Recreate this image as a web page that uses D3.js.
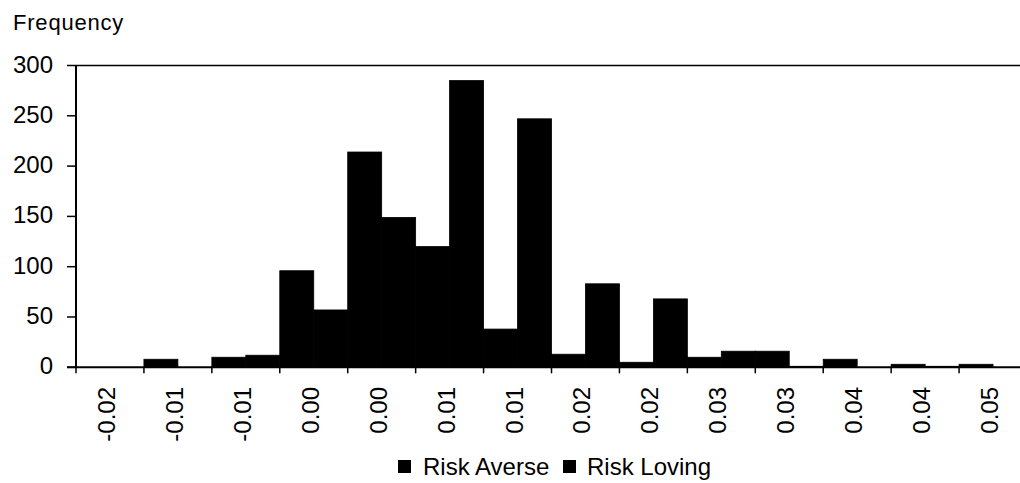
<!DOCTYPE html>
<html>
<head>
<meta charset="utf-8">
<script src="https://cdn.jsdelivr.net/npm/d3@7"></script>
<style>
  html, body { margin: 0; padding: 0; background: #fff; }
  svg { display: block; }
  text { font-family: "Liberation Sans", Arial, sans-serif; fill: #000; }
</style>
</head>
<body>
<svg id="chart" width="1020" height="483"></svg>
<script>
const categories = ["-0.02", "-0.01", "-0.01", "0.00", "0.00", "0.01", "0.01", "0.02", "0.02", "0.03", "0.03", "0.04", "0.04", "0.05"];
const riskAverse = [0, 8, 10, 96, 214, 120, 38, 13, 5, 10, 16, 8, 3, 3];
const riskLoving = [0, 0, 12, 57, 149, 285, 247, 83, 68, 16, 1, 0, 1, 0];
const seriesNames = ["Risk Averse", "Risk Loving"];
const yTicks = [0, 50, 100, 150, 200, 250, 300];

const svg = d3.select("#chart");
const plotLeft = 76, plotRight = 1027, plotTop = 65.5, plotBottom = 367.3;

const x = d3.scaleBand().domain(d3.range(categories.length)).range([plotLeft, plotRight]).paddingInner(0).paddingOuter(0);
const xs = d3.scaleBand().domain([0, 1]).range([0, x.bandwidth()]);
const y = d3.scaleLinear().domain([0, 300]).range([plotBottom, plotTop]);

const fills = ["#000", "#000"];
const series = [riskAverse, riskLoving];

// bars
series.forEach((vals, si) => {
  svg.append("g").selectAll("rect").data(vals).join("rect")
    .attr("x", (d, i) => x(i) + xs(si))
    .attr("y", d => y(d))
    .attr("width", xs.bandwidth())
    .attr("height", d => plotBottom - y(d))
    .attr("fill", fills[si])
    .attr("stroke", "#000")
    .attr("stroke-width", 0.8);
});

// top border
svg.append("line").attr("x1", plotLeft).attr("x2", plotRight).attr("y1", y(300)).attr("y2", y(300))
  .attr("stroke", "#000").attr("stroke-width", 1.5);

// y axis
const yAxis = svg.append("g").attr("transform", `translate(${plotLeft},0)`);
yAxis.append("line").attr("x1", 0).attr("x2", 0).attr("y1", y(300)).attr("y2", plotBottom)
  .attr("stroke", "#000").attr("stroke-width", 2);
yAxis.selectAll("line.tick").data(yTicks).join("line").attr("class", "tick")
  .attr("x1", -9).attr("x2", 0).attr("y1", d => y(d)).attr("y2", d => y(d))
  .attr("stroke", "#000").attr("stroke-width", 1.5);
yAxis.selectAll("text").data(yTicks).join("text")
  .attr("x", -23).attr("y", d => y(d) + 7)
  .attr("text-anchor", "end").attr("font-size", 24)
  .text(d => d);

// x axis
const xAxis = svg.append("g");
xAxis.append("line").attr("x1", plotLeft - 9).attr("x2", plotRight).attr("y1", plotBottom).attr("y2", plotBottom)
  .attr("stroke", "#000").attr("stroke-width", 2);
const bounds = d3.range(categories.length + 1).map(i => plotLeft + i * x.bandwidth());
xAxis.selectAll("line.tick").data(bounds).join("line").attr("class", "tick")
  .attr("x1", d => d).attr("x2", d => d).attr("y1", plotBottom).attr("y2", plotBottom + 6)
  .attr("stroke", "#000").attr("stroke-width", 1.5);
xAxis.selectAll("text").data(categories).join("text")
  .attr("transform", (d, i) => `translate(${x(i) + x.bandwidth() / 2 + 5},387) rotate(-90)`)
  .attr("text-anchor", "end").attr("font-size", 24)
  .text(d => d);

// y title
svg.append("text").attr("x", 13).attr("y", 30).attr("font-size", 22).attr("letter-spacing", 0.8).text("Frequency");

// legend
const legendPos = [{ sx: 398, tx: 423 }, { sx: 563, tx: 587 }];
const lg = svg.append("g");
seriesNames.forEach((name, i) => {
  lg.append("rect").attr("x", legendPos[i].sx).attr("y", 460).attr("width", 13).attr("height", 13).attr("fill", fills[i]);
  lg.append("text").attr("x", legendPos[i].tx).attr("y", 475).attr("font-size", 24).text(name);
});
</script>
</body>
</html>
